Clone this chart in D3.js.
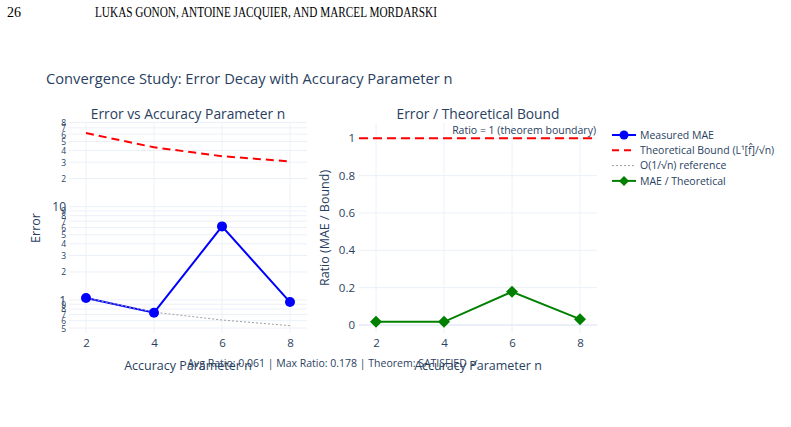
<!DOCTYPE html>
<html>
<head>
<meta charset="utf-8">
<script src="https://cdn.jsdelivr.net/npm/d3@7"></script>
<style>
  body { margin: 0; background: #fff; }
  svg { display: block; }
  text { font-family: "Open Sans", verdana, arial, sans-serif; fill: #2a3f5f; }
</style>
</head>
<body>
<div id="chart"></div>
<script>
// values
var nValues = [2, 4, 6, 8];
var measuredMae = [1.05, 0.73, 6.15, 0.95];
var theoreticalBound = [61.5, 43.3, 34.8, 30.5];
var referenceLine = [1.05, 0.74, 0.61, 0.53];
var ratioValues = [0.017, 0.017, 0.178, 0.031];

var xTicks = [2, 4, 6, 8];
var logTicks = [0.5, 0.6, 0.7, 0.8, 0.9, 1, 2, 3, 4, 5, 6, 7, 8, 9, 10, 20, 30, 40, 50, 60, 70, 80];
var ratioTicks = [0, 0.2, 0.4, 0.6, 0.8, 1];
var legendNames = ["Measured MAE", "Theoretical Bound (L\u00b9[f\u0302]/\u221an)", "O(1/\u221an) reference", "MAE / Theoretical"];

function init(){
    var w = 791, h = 427;
    var gridColor = "#EBF0F8";

    var svg = d3.select("#chart").append("svg")
      .attr("width", w).attr("height", h);
    svg.append("rect").attr("width", w).attr("height", h).attr("fill", "#fff");

    // page header
    svg.append("text").attr("x", 7).attr("y", 17)
      .style("font-family", "'Liberation Serif', serif").style("font-size", "14px").style("fill", "#000")
      .text("26");
    svg.append("text").attr("x", 95).attr("y", 17)
      .style("font-family", "'Liberation Serif', serif").style("font-size", "14.5px").style("fill", "#000")
      .attr("textLength", 342).attr("lengthAdjust", "spacingAndGlyphs")
      .text("LUKAS GONON, ANTOINE JACQUIER, AND MARCEL MORDARSKI");

    svg.append("text").attr("x", 46).attr("y", 84)
      .style("font-size", "14.7px")
      .text("Convergence Study: Error Decay with Accuracy Parameter n");

    var top = 123, bottom = 333;

    // ---- left panel (log y) ----
    var x1 = d3.scaleLinear().domain([1.5, 8.5]).range([69, 307]);
    var y1 = d3.scaleLog().domain([Math.pow(10, -0.354), Math.pow(10, 1.897)]).range([bottom, top]);

    var g1 = svg.append("g");
    g1.selectAll(".vg").data(xTicks).enter().append("line")
      .attr("x1", function(d){ return x1(d); }).attr("x2", function(d){ return x1(d); })
      .attr("y1", top).attr("y2", bottom).attr("stroke", gridColor);
    g1.selectAll(".hg").data(logTicks).enter().append("line")
      .attr("x1", 69).attr("x2", 307)
      .attr("y1", function(d){ return y1(d); }).attr("y2", function(d){ return y1(d); })
      .attr("stroke", gridColor);

    var yAxis1 = d3.axisLeft(y1).tickValues(logTicks).tickSize(0).tickPadding(3)
      .tickFormat(function(d){
        if (d === 1 || d === 10) return String(d);
        var e = Math.floor(Math.log10(d) + 1e-9);
        return String(Math.round(d / Math.pow(10, e)));
      });
    var ya1 = g1.append("g").attr("transform", "translate(69,0)").call(yAxis1);
    ya1.select(".domain").remove();
    ya1.selectAll("text").style("font-size", function(d){ return (d === 1 || d === 10) ? "12px" : "8.5px"; })
      .style("fill", "#2a3f5f").attr("dy", "0.35em");

    var xAxis1 = d3.axisBottom(x1).tickValues(xTicks).tickSize(0).tickPadding(6).tickFormat(d3.format("d"));
    var xa1 = g1.append("g").attr("transform", "translate(0," + bottom + ")").call(xAxis1);
    xa1.select(".domain").remove();
    xa1.selectAll("text").style("font-size", "11.5px").style("fill", "#2a3f5f");

    var line1 = d3.line().x(function(d, i){ return x1(nValues[i]); }).y(function(d){ return y1(d); });

    g1.append("path").datum(theoreticalBound).attr("d", line1)
      .attr("fill", "none").attr("stroke", "red").attr("stroke-width", 2).attr("stroke-dasharray", "8,5");
    g1.append("path").datum(measuredMae).attr("d", line1)
      .attr("fill", "none").attr("stroke", "blue").attr("stroke-width", 2);
    g1.append("path").datum(referenceLine).attr("d", line1)
      .attr("fill", "none").attr("stroke", "#a0a0a0").attr("stroke-width", 1).attr("stroke-dasharray", "2,2");
    g1.selectAll(".pt").data(measuredMae).enter().append("circle")
      .attr("cx", function(d, i){ return x1(nValues[i]); }).attr("cy", function(d){ return y1(d); })
      .attr("r", 5).attr("fill", "blue");

    g1.append("text").attr("x", 188).attr("y", 119).attr("text-anchor", "middle")
      .style("font-size", "13.8px").text("Error vs Accuracy Parameter n");
    g1.append("text").attr("x", 188).attr("y", 370).attr("text-anchor", "middle")
      .style("font-size", "12.5px").text("Accuracy Parameter n");
    g1.append("text").attr("transform", "translate(40,228) rotate(-90)").attr("text-anchor", "middle")
      .style("font-size", "12.5px").text("Error");

    // ---- right panel (ratio) ----
    var x2 = d3.scaleLinear().domain([1.5, 8.5]).range([359, 597]);
    var y2 = d3.scaleLinear().domain([-0.043, 1.082]).range([bottom, top]);

    var g2 = svg.append("g");
    g2.selectAll(".vg").data(xTicks).enter().append("line")
      .attr("x1", function(d){ return x2(d); }).attr("x2", function(d){ return x2(d); })
      .attr("y1", top).attr("y2", bottom).attr("stroke", gridColor);
    g2.selectAll(".hg").data(ratioTicks).enter().append("line")
      .attr("x1", 359).attr("x2", 597)
      .attr("y1", function(d){ return y2(d); }).attr("y2", function(d){ return y2(d); })
      .attr("stroke", gridColor).attr("stroke-width", function(d){ return d === 0 ? 2 : 1; });

    var yAxis2 = d3.axisLeft(y2).tickValues(ratioTicks).tickSize(0).tickPadding(4).tickFormat(d3.format("~g"));
    var ya2 = g2.append("g").attr("transform", "translate(359,0)").call(yAxis2);
    ya2.select(".domain").remove();
    ya2.selectAll("text").style("font-size", "11.5px").style("fill", "#2a3f5f");

    var xAxis2 = d3.axisBottom(x2).tickValues(xTicks).tickSize(0).tickPadding(6).tickFormat(d3.format("d"));
    var xa2 = g2.append("g").attr("transform", "translate(0," + bottom + ")").call(xAxis2);
    xa2.select(".domain").remove();
    xa2.selectAll("text").style("font-size", "11.5px").style("fill", "#2a3f5f");

    g2.append("line").attr("x1", 359).attr("x2", 597).attr("y1", y2(1)).attr("y2", y2(1))
      .attr("stroke", "red").attr("stroke-width", 2).attr("stroke-dasharray", "9,5");
    g2.append("text").attr("x", 596).attr("y", 134).attr("text-anchor", "end")
      .style("font-size", "10.5px").text("Ratio = 1 (theorem boundary)");

    var line2 = d3.line().x(function(d, i){ return x2(nValues[i]); }).y(function(d){ return y2(d); });
    g2.append("path").datum(ratioValues).attr("d", line2)
      .attr("fill", "none").attr("stroke", "green").attr("stroke-width", 2);
    g2.selectAll(".pt").data(ratioValues).enter().append("path")
      .attr("transform", function(d, i){ return "translate(" + x2(nValues[i]) + "," + y2(d) + ")"; })
      .attr("d", "M0,-6L6,0L0,6L-6,0Z").attr("fill", "green");

    g2.append("text").attr("x", 478).attr("y", 119).attr("text-anchor", "middle")
      .style("font-size", "13.8px").text("Error / Theoretical Bound");
    g2.append("text").attr("x", 478).attr("y", 370).attr("text-anchor", "middle")
      .style("font-size", "12.5px").text("Accuracy Parameter n");
    g2.append("text").attr("transform", "translate(329,228) rotate(-90)").attr("text-anchor", "middle")
      .style("font-size", "12.5px").text("Ratio (MAE / Bound)");

    // summary annotation
    svg.append("text").attr("x", 333).attr("y", 367).attr("text-anchor", "middle")
      .style("font-size", "10.5px")
      .text("Avg Ratio: 0.061 | Max Ratio: 0.178 | Theorem: SATISFIED \u2713");

    // legend
    var lg = svg.append("g").attr("transform", "translate(612,135)");
    legendNames.forEach(function(name, i){
      var gy = i * 15.3;
      var item = lg.append("g").attr("transform", "translate(0," + gy + ")");
      var ln = item.append("line").attr("x1", 0).attr("x2", 24).attr("y1", 0).attr("y2", 0);
      if (i === 0) {
        ln.attr("stroke", "blue").attr("stroke-width", 2);
        item.append("circle").attr("cx", 12).attr("cy", 0).attr("r", 4.5).attr("fill", "blue");
      } else if (i === 1) {
        ln.attr("stroke", "red").attr("stroke-width", 2).attr("stroke-dasharray", "7,5");
      } else if (i === 2) {
        ln.attr("stroke", "#a0a0a0").attr("stroke-width", 1).attr("stroke-dasharray", "2,2");
      } else {
        ln.attr("stroke", "green").attr("stroke-width", 2);
        item.append("path").attr("transform", "translate(12,0)").attr("d", "M0,-5L5,0L0,5L-5,0Z").attr("fill", "green");
      }
      item.append("text").attr("x", 28).attr("y", 0).attr("dy", "0.35em")
        .style("font-size", "10.5px").text(name);
    });
}

window.onload = init;
</script>
</body>
</html>
